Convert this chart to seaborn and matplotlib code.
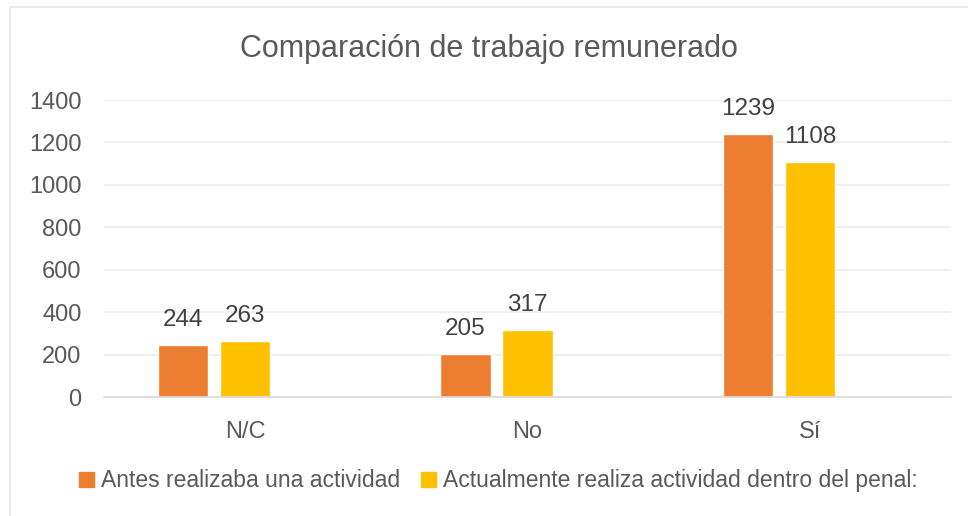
import pandas as pd
import seaborn as sns
import matplotlib.pyplot as plt
from matplotlib.patches import Rectangle

categories = ['N/C', 'No', 'Sí']
antes = [244, 205, 1239]
actual = [263, 317, 1108]
series_names = ['Antes realizaba una actividad',
                'Actualmente realiza actividad dentro del penal:']
colors = ['#ED7D31', '#FFC000']

rows = []
for cat, a, b in zip(categories, antes, actual):
    rows.append({'cat': cat, 'serie': series_names[0], 'valor': a})
    rows.append({'cat': cat, 'serie': series_names[1], 'valor': b})
df = pd.DataFrame(rows)

sns.set_style('white')
plt.rcParams['font.family'] = ['Liberation Sans', 'DejaVu Sans']

fig = plt.figure(figsize=(9.68, 5.16), dpi=100)
ax = fig.add_axes([0.1074, 0.2306, 0.875, 0.5756])

# third (empty) hue level keeps the Excel layout with an unused slot
hue_order = series_names + ['']
palette = {series_names[0]: colors[0], series_names[1]: colors[1], '': '#ffffff'}
sns.barplot(data=df, x='cat', y='valor', hue='serie', hue_order=hue_order,
            palette=palette, order=categories, width=0.66, gap=0.19,
            saturation=1, errorbar=None, ax=ax, legend=False)

ax.set_ylim(0, 1400)
ax.set_xlim(-0.5, 2.5)
ax.set_yticks(range(0, 1401, 200))
ax.yaxis.grid(True, color='#ececec', linewidth=1.2)
ax.set_axisbelow(True)
for s in ['top', 'right', 'left']:
    ax.spines[s].set_visible(False)
ax.spines['bottom'].set_color('#d9d9d9')
ax.spines['bottom'].set_linewidth(1.2)
ax.tick_params(axis='both', length=0, labelsize=17, colors='#595959')
ax.tick_params(axis='x', pad=17)
ax.tick_params(axis='y', pad=16)
ax.set_xlabel('')
ax.set_ylabel('')

for cont in ax.containers:
    ax.bar_label(cont, padding=10, fontsize=17.5, color='#404040')

fig.text(0.505, 0.905, 'Comparación de trabajo remunerado', ha='center', va='center',
         fontsize=22, color='#595959')

handles = [Rectangle((0, 0), 1, 1, color=c) for c in colors]
fig.legend(handles, series_names, loc='center', bbox_to_anchor=(0.515, 0.068),
           ncol=2, frameon=False, fontsize=16.5, labelcolor='#595959',
           handlelength=0.65, handleheight=0.65, handletextpad=0.3, columnspacing=0.9)

fig.patches.append(Rectangle((10 / 968, -0.1), 1.2, 1 - 7 / 516 + 0.1,
                             transform=fig.transFigure, fill=False,
                             edgecolor='#e6e6e6', linewidth=1.2))

fig.savefig('out.png', dpi=100)
